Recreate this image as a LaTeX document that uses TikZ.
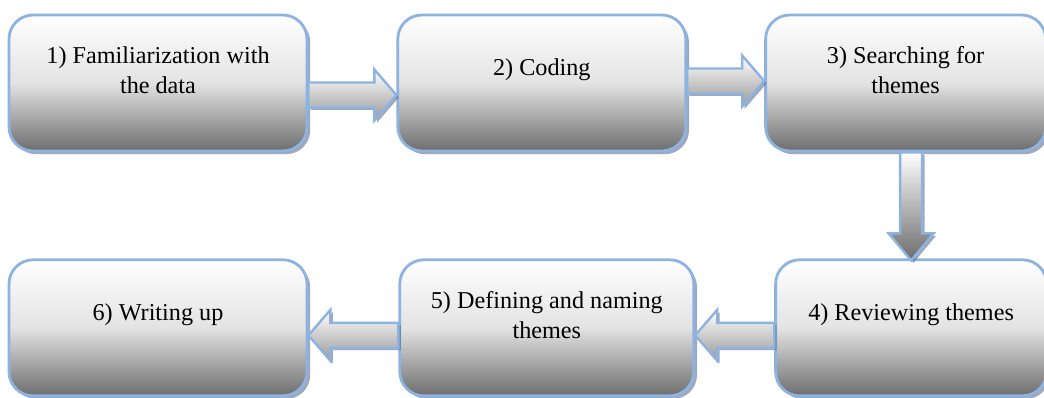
\documentclass[tikz,border=0pt]{standalone}
\usepackage{fontspec}
\setmainfont{Liberation Serif}
\usetikzlibrary{positioning,shadows}
\definecolor{boxline}{RGB}{141,179,226}
\definecolor{boxshadow}{RGB}{95,112,140}

\begin{document}
\begin{tikzpicture}[node distance=44pt, thick]
\tikzstyle{box} = [rectangle, draw=boxline, line width=1.4pt, rounded corners=12pt, minimum height=68pt, top color=white, bottom color=black!57, middle color=black!11, drop shadow={shadow xshift=1.6pt, shadow yshift=-1.6pt, fill=boxshadow, opacity=0.6}]
\tikzstyle{boxtext} = [align=center, font=\fontsize{12.1}{15}\selectfont, text=black]
\tikzstyle{barrow} = [draw=boxline, line width=1.2pt, top color=white, bottom color=black!40, drop shadow={shadow xshift=1.2pt, shadow yshift=-1.2pt, fill=boxshadow, opacity=0.6}]
\tikzstyle{rightblock} = [to path={([yshift=6.25pt]\tikztostart) -- ([xshift=-11pt,yshift=6.25pt]\tikztotarget) -- ([xshift=-11pt,yshift=12.75pt]\tikztotarget) -- (\tikztotarget) -- ([xshift=-11pt,yshift=-12.75pt]\tikztotarget) -- ([xshift=-11pt,yshift=-6.25pt]\tikztotarget) -- ([yshift=-6.25pt]\tikztostart) -- cycle}]
\tikzstyle{leftblock} = [to path={([yshift=6.25pt]\tikztostart) -- ([xshift=11pt,yshift=6.25pt]\tikztotarget) -- ([xshift=11pt,yshift=12.75pt]\tikztotarget) -- (\tikztotarget) -- ([xshift=11pt,yshift=-12.75pt]\tikztotarget) -- ([xshift=11pt,yshift=-6.25pt]\tikztotarget) -- ([yshift=-6.25pt]\tikztostart) -- cycle}]
\tikzstyle{downblock} = [to path={([xshift=-5.5pt]\tikztostart) -- ([xshift=-5.5pt,yshift=13.5pt]\tikztotarget) -- ([xshift=-11.25pt,yshift=13.5pt]\tikztotarget) -- (\tikztotarget) -- ([xshift=11.25pt,yshift=13.5pt]\tikztotarget) -- ([xshift=5.5pt,yshift=13.5pt]\tikztotarget) -- ([xshift=5.5pt]\tikztostart) -- cycle}]

\useasboundingbox (0,0) rectangle (522pt,-198.5pt);

% top row
\node[box, minimum width=149pt] (b1) at (79pt,-41.5pt) {};
\node[box, minimum width=144pt, right=44pt of b1] (b2) {};
\node[box, minimum width=140pt, right=38.5pt of b2] (b3) {};
% bottom row, right to left
\node[box, minimum width=135.5pt, below=53pt of b3, xshift=2.75pt] (b4) {};
\node[box, minimum width=147pt, left=39.5pt of b4] (b5) {};
\node[box, minimum width=149pt, left=45pt of b5] (b6) {};

\node[boxtext] (t1) at ([yshift=6.5pt]b1.center) {1) Familiarization with\\the data};
\node[boxtext] (t2) at ([yshift=6.5pt]b2.center) {2) Coding};
\node[boxtext] (t3) at ([yshift=6.5pt]b3.center) {3) Searching for\\themes};
\node[boxtext] (t4) at ([yshift=6.5pt]b4.center) {4) Reviewing themes};
\node[boxtext] (t5) at ([yshift=6.5pt]b5.center) {5) Defining and naming\\themes};
\node[boxtext] (t6) at ([yshift=6.5pt]b6.center) {6) Writing up};

\coordinate (a1s) at ([yshift=-6pt]b1.east);
\coordinate (a1e) at ([yshift=-6pt]b2.west);
\coordinate (a2s) at ([yshift=1pt]b2.east);
\coordinate (a2e) at ([yshift=1pt]b3.west);
\coordinate (a3s) at (b4.north |- b3.south);
\coordinate (a3e) at ([yshift=-1pt]b4.north);
\coordinate (a4s) at ([yshift=-3.75pt]b4.west);
\coordinate (a4e) at ([yshift=-3.75pt]b5.east);
\coordinate (a5s) at ([yshift=-3.75pt]b5.west);
\coordinate (a5e) at ([yshift=-3.75pt]b6.east);

\draw[barrow, rightblock] (a1s) to (a1e);
\draw[barrow, rightblock] (a2s) to (a2e);
\draw[barrow, bottom color=black!58, downblock] (a3s) to (a3e);
\draw[barrow, leftblock] (a4s) to (a4e);
\draw[barrow, leftblock] (a5s) to (a5e);

\end{tikzpicture}
\end{document}
